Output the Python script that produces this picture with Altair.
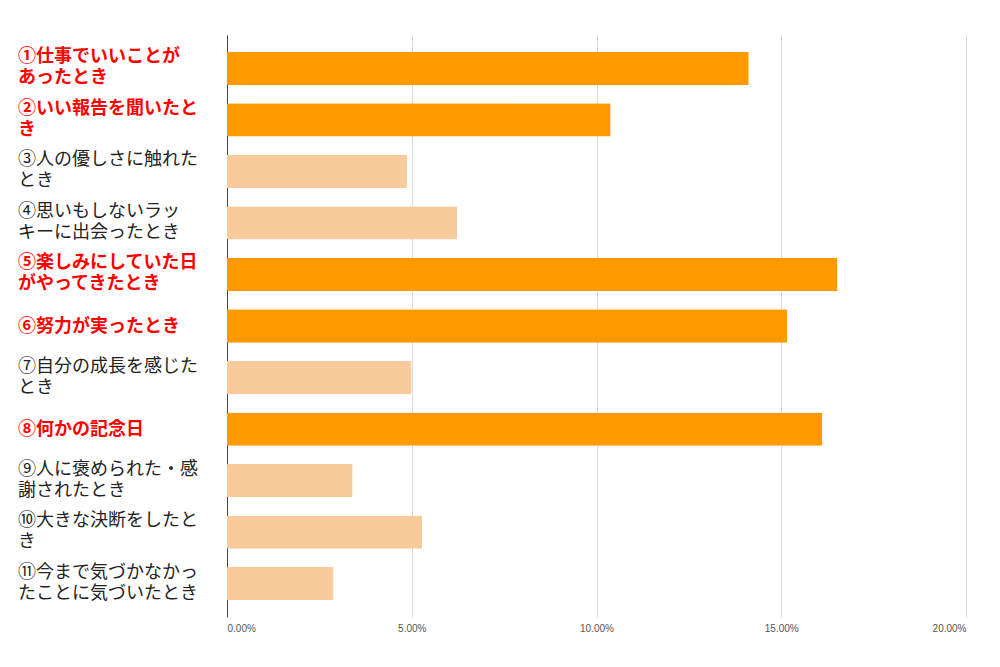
import altair as alt
import pandas as pd

labels = [
    "①仕事でいいことが\nあったとき",
    "②いい報告を聞いたと\nき",
    "③人の優しさに触れた\nとき",
    "④思いもしないラッ\nキーに出会ったとき",
    "⑤楽しみにしていた日\nがやってきたとき",
    "⑥努力が実ったとき",
    "⑦自分の成長を感じた\nとき",
    "⑧何かの記念日",
    "⑨人に褒められた・感\n謝されたとき",
    "⑩大きな決断をしたと\nき",
    "⑪今まで気づかなかっ\nたことに気づいたとき",
]
values = [0.1412, 0.1038, 0.0487, 0.0623, 0.1652, 0.1516, 0.0499, 0.1611, 0.0340, 0.0528, 0.0288]
highlight = [True, True, False, False, True, True, False, True, False, False, False]
x_ticks = [0, 0.05, 0.10, 0.15, 0.20]

df = pd.DataFrame({
    "label": labels,
    "value": values,
    "group": ["hi" if h else "lo" for h in highlight],
    "lines": [lab.count("\n") + 1 for lab in labels],
})

order = labels
yenc = alt.Y("label:N", sort=order, title=None,
             scale=alt.Scale(paddingInner=0.353, paddingOuter=0.324),
             axis=alt.Axis(labels=False, ticks=False, grid=False, domain=True,
                           domainColor="#444444", domainWidth=1, title=None))

base = alt.Chart(df)

bars = base.mark_bar(cornerRadius=1).encode(
    x=alt.X("value:Q", title=None,
            scale=alt.Scale(domain=[0, 0.2], nice=False),
            axis=alt.Axis(values=x_ticks, format=".2%", grid=True, gridColor="#d9d9d9",
                          domain=False, ticks=False, labelFont="Liberation Sans",
                          labelFontSize=10, labelColor="#555555", labelPadding=6)),
    y=yenc,
    color=alt.Color("group:N", scale=alt.Scale(domain=["hi", "lo"], range=["#ff9900", "#f9cb9c"]),
                    legend=None),
)


def text_layer(group, lines, color, weight, dy):
    return base.transform_filter(
        f"datum.group == '{group}' && datum.lines == {lines}"
    ).mark_text(
        align="left", baseline="middle", lineBreak="\n", font="Noto Sans CJK JP",
        fontSize=18, fontWeight=weight, color=color, dy=dy, lineHeight=21,
    ).encode(
        x=alt.value(-209),
        y=alt.Y("label:N", sort=order),
        text="label:N",
    )


texts = [
    text_layer("hi", 2, "#ff0000", "bold", -11),
    text_layer("hi", 1, "#ff0000", "bold", 1),
    text_layer("lo", 2, "#222222", "normal", -11),
    text_layer("lo", 1, "#222222", "normal", 1),
]

chart = alt.layer(bars, *texts).properties(
    width=739, height=582, autosize="none",
    padding={"left": 219, "top": 27, "right": 20, "bottom": 40},
    view=alt.ViewBackground(strokeWidth=0, stroke="transparent"),
).configure_view(strokeWidth=0, stroke="transparent").configure(background="white")

chart.save("out.html", embed_options={"renderer": "svg", "actions": False})
